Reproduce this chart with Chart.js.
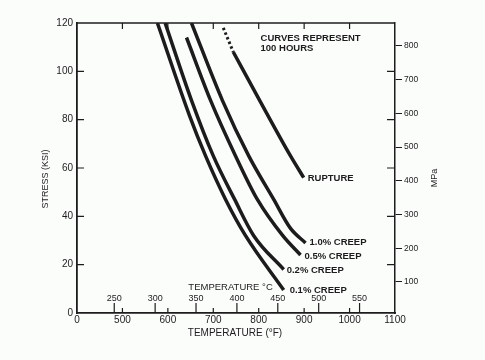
<!DOCTYPE html>
<html>
<head>
<meta charset="utf-8">
<script src="https://cdn.jsdelivr.net/npm/chart.js@4.4.1/dist/chart.umd.min.js"></script>
<style>
  body { margin: 0; background: #fbfdfb; }
  #wrap { width: 485px; height: 360px; }
</style>
</head>
<body>
<div id="wrap"><canvas id="myChart" width="485" height="360"></canvas></div>
<script>
// values (temperature in °F, stress in ksi)
var creep01F = [577, 647, 683, 727, 771, 855];
var creep01S = [120, 82, 65, 47, 32, 9.5];
var creep02F = [594, 652, 700, 747, 789, 855];
var creep02S = [120, 88, 65, 47, 32, 18];
var creep05F = [641, 694, 749, 797, 853, 892];
var creep05S = [114, 88, 65, 47, 32, 24];
var creep10F = [652, 720, 778, 833, 870, 903];
var creep10S = [120, 88, 65, 47, 35, 29];
var ruptDashF = [722, 744];
var ruptDashS = [118, 108];
var ruptureF = [744, 802, 870, 899];
var ruptureS = [108, 88, 65, 56];

var curveLabels = ['0.1% CREEP', '0.2% CREEP', '0.5% CREEP', '1.0% CREEP', 'RUPTURE'];
var fahrenheitTicks = [400, 500, 600, 700, 800, 900, 1000, 1100];
var celsiusTicks = [250, 300, 350, 400, 450, 500, 550];
var stressTicks = [0, 20, 40, 60, 80, 100, 120];
var mpaTicks = [100, 200, 300, 400, 500, 600, 700, 800];

var FONT = "'Liberation Sans', Arial, sans-serif";
var INK = '#1c1c1c';

function pts(xs, ys) {
    return xs.map(function (x, i) { return { x: x, y: ys[i] }; });
}

function curve(xs, ys, dash) {
    return {
        data: pts(xs, ys),
        borderColor: INK,
        borderWidth: dash ? 3 : 3.5,
        borderDash: dash ? [2.5, 2.5] : [],
        pointRadius: 0,
        cubicInterpolationMode: 'monotone',
        fill: false
    };
}

var extras = {
    id: 'extras',
    afterDatasetsDraw: function (chart) {
        var ctx = chart.ctx;
        var a = chart.chartArea;
        var x = chart.scales.x;
        var y = chart.scales.y;
        ctx.save();
        ctx.strokeStyle = INK;
        ctx.fillStyle = INK;
        ctx.lineWidth = 1.5;

        // top frame line
        ctx.beginPath();
        ctx.moveTo(a.left, a.top);
        ctx.lineTo(a.right, a.top);
        ctx.stroke();

        ctx.lineWidth = 1.2;
        // °F ticks top and bottom, pointing inward
        fahrenheitTicks.forEach(function (f) {
            if (f === 400 || f === 1100) return;
            var px = x.getPixelForValue(f);
            ctx.beginPath();
            ctx.moveTo(px, a.top); ctx.lineTo(px, a.top + 6);
            ctx.moveTo(px, a.bottom); ctx.lineTo(px, a.bottom - 5);
            ctx.stroke();
        });
        // stress ticks left and right, pointing inward
        stressTicks.forEach(function (s) {
            if (s === 0 || s === 120) return;
            var py = y.getPixelForValue(s);
            ctx.beginPath();
            ctx.moveTo(a.left, py); ctx.lineTo(a.left + 7, py);
            ctx.moveTo(a.right, py); ctx.lineTo(a.right - 8, py);
            ctx.stroke();
        });
        // inner °C scale
        ctx.font = '9px ' + FONT;
        ctx.textAlign = 'center';
        ctx.textBaseline = 'bottom';
        celsiusTicks.forEach(function (c) {
            var px = x.getPixelForValue(c * 9 / 5 + 32);
            ctx.beginPath();
            ctx.moveTo(px, a.bottom); ctx.lineTo(px, a.bottom - 10);
            ctx.stroke();
            ctx.fillText(String(c), px, a.bottom - 10);
        });
        ctx.font = '9.5px ' + FONT;
        ctx.textBaseline = 'middle';
        ctx.fillText('TEMPERATURE \u00B0C', x.getPixelForValue(738), y.getPixelForValue(10.8));

        // note
        ctx.textAlign = 'left';
        ctx.font = 'bold 9.5px ' + FONT;
        ctx.fillText('CURVES REPRESENT', x.getPixelForValue(804), y.getPixelForValue(113.8));
        ctx.fillText('100 HOURS', x.getPixelForValue(804), y.getPixelForValue(109.6));

        // curve labels at curve ends
        var ends = [
            [creep01F, creep01S, 6, 0],
            [creep02F, creep02S, 3, 1],
            [creep05F, creep05S, 4, 1],
            [creep10F, creep10S, 4, -1],
            [ruptureF, ruptureS, 4, 1]
        ];
        ends.forEach(function (e, i) {
            var n = e[0].length - 1;
            var px = x.getPixelForValue(e[0][n]);
            var py = y.getPixelForValue(e[1][n]);
            ctx.fillText(curveLabels[i], px + e[2], py + e[3]);
        });

        // axis titles
        ctx.font = '10px ' + FONT;
        ctx.textAlign = 'center';
        ctx.fillText('TEMPERATURE (\u00B0F)', 235, 333);
        ctx.font = '9px ' + FONT;
        ctx.translate(46, 179);
        ctx.rotate(-Math.PI / 2);
        ctx.fillText('STRESS (KSI)', 0, 0);
        ctx.rotate(Math.PI / 2);
        ctx.translate(-46, -179);
        ctx.translate(435, 178);
        ctx.rotate(-Math.PI / 2);
        ctx.fillText('MPa', 0, 0);
        ctx.restore();
    }
};

var canvas = document.getElementById('myChart');
new Chart(canvas, {
    type: 'line',
    data: {
        datasets: [
            curve(creep01F, creep01S),
            curve(creep02F, creep02S),
            curve(creep05F, creep05S),
            curve(creep10F, creep10S),
            curve(ruptDashF, ruptDashS, true),
            curve(ruptureF, ruptureS)
        ]
    },
    options: {
        responsive: false,
        animation: false,
        layout: { padding: { top: 23, left: 0, right: 0, bottom: 0 } },
        plugins: { legend: { display: false }, tooltip: { enabled: false } },
        scales: {
            x: {
                type: 'linear',
                min: 400,
                max: 1100,
                afterFit: function (s) { s.height = 47; },
                afterBuildTicks: function (s) {
                    s.ticks = fahrenheitTicks.map(function (v) { return { value: v }; });
                },
                ticks: {
                    padding: 1,
                    color: INK,
                    font: { family: FONT, size: 10 },
                    maxRotation: 0,
                    callback: function (v) { return v === 400 ? '0' : String(v); }
                },
                grid: { display: false, drawTicks: false },
                border: { display: true, color: INK, width: 1.8 }
            },
            y: {
                min: 0,
                max: 120,
                afterFit: function (s) { s.width = 77; },
                afterBuildTicks: function (s) {
                    s.ticks = stressTicks.map(function (v) { return { value: v }; });
                },
                ticks: { padding: 4, color: INK, font: { family: FONT, size: 10 } },
                grid: { display: false, drawTicks: false },
                border: { display: true, color: INK, width: 1.8 }
            },
            y1: {
                position: 'right',
                min: 8,
                max: 868,
                afterFit: function (s) { s.width = 90; },
                afterBuildTicks: function (s) {
                    s.ticks = mpaTicks.map(function (v) { return { value: v }; });
                },
                ticks: { padding: 2, color: INK, font: { family: FONT, size: 8.5 } },
                grid: { drawOnChartArea: false, drawTicks: true, tickLength: 7, color: INK, lineWidth: 1 },
                border: { display: true, color: INK, width: 1.5 }
            }
        }
    },
    plugins: [extras]
});
</script>
</body>
</html>
